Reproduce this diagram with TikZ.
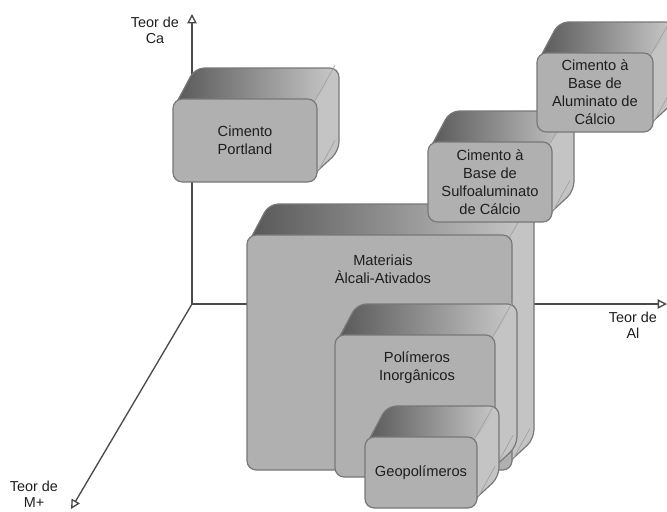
\documentclass[tikz,border=0pt]{standalone}
\usepackage{fontspec}
\setmainfont{Liberation Sans}
\usetikzlibrary{arrows.meta}
\definecolor{axisgray}{HTML}{4A4A4A}
\definecolor{edgegray}{HTML}{787878}
\definecolor{frontgray}{HTML}{B0B0B0}
\definecolor{sidegray}{HTML}{C4C4C4}
\definecolor{topdark}{HTML}{575757}
\definecolor{toplight}{HTML}{CACACA}
\definecolor{textgray}{HTML}{1E1E1E}
\tikzset{
  axis/.style={draw=axisgray, line width=1pt, -{Triangle[open, length=7pt, width=7pt]}},
  axlabel/.style={align=center, font=\fontsize{10.8}{12}\selectfont, text=textgray, inner sep=0pt},
  boxtext/.style={align=center, font=\fontsize{11}{13.5}\selectfont, text=textgray, inner sep=0pt},
  front/.style={draw=edgegray, fill=frontgray, line width=0.9pt, rounded corners=7pt, inner sep=0pt, outer sep=0pt},
  topface/.style={left color=topdark, right color=toplight, rounded corners=7pt},
  bevel/.style={draw=edgegray!70, line width=0.5pt}
}
\newcommand{\dxx}{22}
\newcommand{\dyy}{-31}
% #1 name, #2 x, #3 y, #4 w, #5 h
\newcommand{\cubebox}[5]{%
  \coordinate (#1-tl) at (#2,#3);
  \coordinate (#1-tr) at ({#2+#4},#3);
  \coordinate (#1-br) at ({#2+#4},{#3+#5});
  \coordinate (#1-btl) at ({#2+\dxx},{#3+\dyy});
  \coordinate (#1-btr) at ({#2+#4+\dxx},{#3+\dyy});
  \coordinate (#1-bbr) at ({#2+#4+\dxx},{#3+#5+\dyy});
  \path[fill=sidegray, rounded corners=7pt] ([yshift=-8pt]#1-tl) -- (#1-btl) -- (#1-btr) -- (#1-bbr) -- ([yshift=8pt]#1-br) -- ([xshift=-10pt,yshift=8pt]#1-br) -- ([xshift=10pt,yshift=-8pt]#1-tl) -- cycle;
  \path[topface] ([yshift=-7pt]#1-tl) -- (#1-btl) -- (#1-btr) -- (#1-tr) -- ([xshift=-10pt,yshift=-7pt]#1-tr) -- cycle;
  \draw[edgegray, line width=0.9pt, rounded corners=7pt] ([yshift=-8pt]#1-tl) -- (#1-btl) -- (#1-btr) -- (#1-bbr) -- ([yshift=8pt]#1-br);
  \draw[bevel] ([xshift=-2pt,yshift=-2pt]#1-tr) -- ([xshift=-3pt,yshift=2pt]#1-btr);
  \draw[bevel] ([xshift=-2pt,yshift=3pt]#1-br) -- ([xshift=-3pt,yshift=8pt]#1-bbr);
  \node[front, minimum width={#4*0.75pt}, minimum height={#5*0.75pt}] (#1) at ({#2+#4/2},{#3+#5/2}) {};
}
\begin{document}
\begin{tikzpicture}[x=0.75pt, y=-0.75pt]
\useasboundingbox (0,0) rectangle (667,511);
% axes
\coordinate (o) at (192,304);
\coordinate (ca) at (192,14);
\coordinate (al) at (667,304);
\coordinate (mp) at (71,509);
\draw[axis] (o) -- (ca);
\draw[axis] (o) -- (al);
\draw[axis] (o) -- (mp);
\node[axlabel] (lca) at (155,30) {Teor de\\Ca};
\node[axlabel] (lal) at (633,325) {Teor de\\Al};
\node[axlabel] (lmp) at (34,494) {Teor de\\M+};
% boxes
\cubebox{mat}{247}{235}{265}{235}
\node[boxtext] (matt) at (383,269) {Materiais\\Àlcali-Ativados};
\cubebox{pol}{335}{335}{160}{142}
\node[boxtext] (polt) at (417,368) {Polímeros\\Inorgânicos};
\cubebox{geo}{365}{437}{112}{71}
\node[boxtext] (geot) at (421,473) {Geopolímeros};
\cubebox{sul}{428}{142}{124}{80}
\node[boxtext] (sult) at (490,182) {Cimento à\\Base de\\Sulfoaluminato\\de Cálcio};
\cubebox{alu}{537}{53}{116}{79}
\node[boxtext] (alut) at (595,92) {Cimento à\\Base de\\Aluminato de\\Cálcio};
\cubebox{por}{173}{99}{144}{83}
\node[boxtext] (port) at (245,140) {Cimento\\Portland};
\end{tikzpicture}
\end{document}
